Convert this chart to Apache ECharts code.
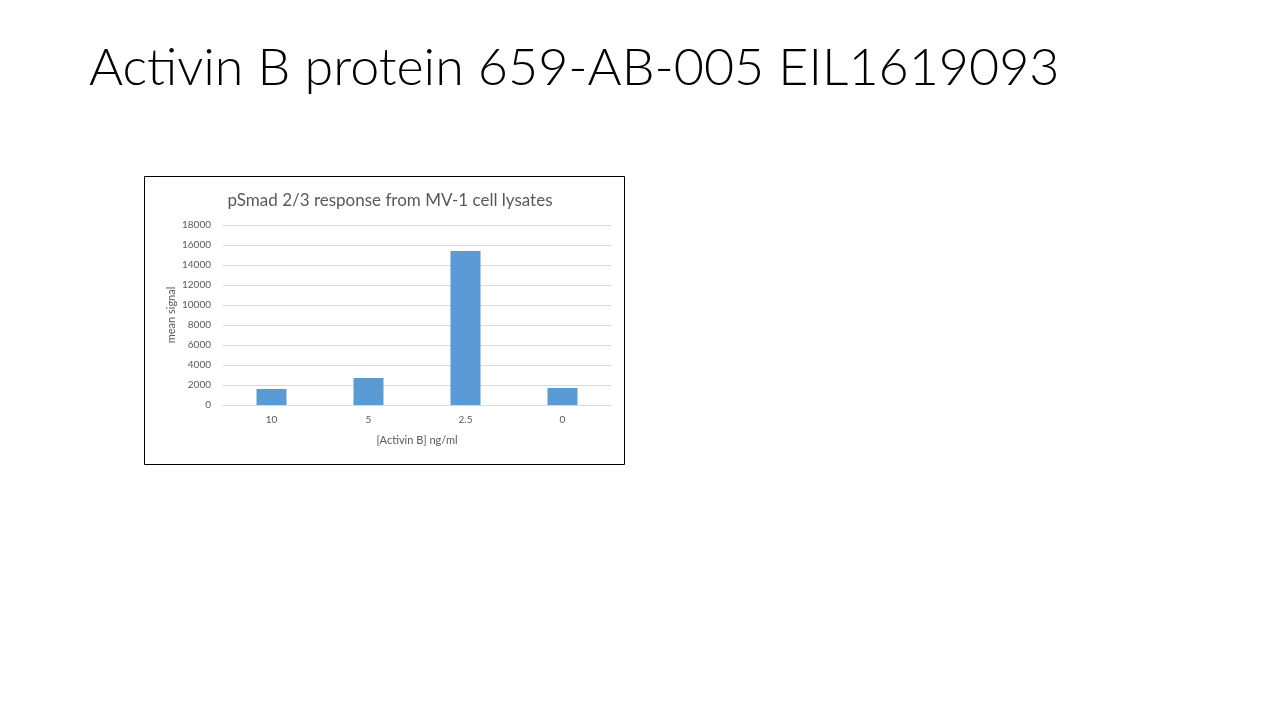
<!DOCTYPE html>
<html>
<head>
<meta charset="utf-8">
<script src="https://cdn.jsdelivr.net/npm/echarts@6/dist/echarts.min.js"></script>
<style>
  html, body { margin: 0; padding: 0; background: #fff; }
  #main { width: 1280px; height: 720px; }
</style>
</head>
<body>
<div id="main"></div>
<script>
  var categories = ['10', '5', '2.5', '0'];
  var meanSignal = [1600, 2700, 15400, 1700];
  var yTicks = { min: 0, max: 18000, interval: 2000 };

  var chart = echarts.init(document.getElementById('main'));
  chart.setOption({
    backgroundColor: '#fff',
    animation: false,
    title: [{
      text: 'Activin B protein 659-AB-005 EIL1619093',
      left: 84, top: 37,
      textStyle: { fontFamily: 'Lato', fontWeight: 300, fontSize: 52, color: '#000' }
    }, {
      text: 'pSmad 2/3 response from MV-1 cell lysates',
      left: 385, top: 187, textAlign: 'center',
      textStyle: { fontFamily: 'Lato', fontWeight: 'normal', fontSize: 17, color: '#595959' }
    }],
    graphic: [{
      type: 'rect',
      shape: { x: 144.5, y: 176.5, width: 480, height: 288 },
      style: { fill: 'none', stroke: '#000', lineWidth: 1 },
      silent: true
    }],
    grid: { left: 223, top: 225, width: 388, height: 180 },
    xAxis: {
      type: 'category',
      data: categories,
      name: '[Activin B] ng/ml',
      nameLocation: 'middle',
      nameGap: 30,
      nameTextStyle: { fontFamily: 'Lato', fontSize: 11, color: '#595959' },
      axisLine: { lineStyle: { color: '#d9d9d9' } },
      axisTick: { show: false },
      axisLabel: { fontFamily: 'Lato', fontSize: 10, color: '#595959', margin: 10 }
    },
    yAxis: {
      type: 'value',
      min: yTicks.min, max: yTicks.max, interval: yTicks.interval,
      name: 'mean signal',
      nameLocation: 'middle',
      nameGap: 46,
      nameRotate: 90,
      nameTextStyle: { fontFamily: 'Lato', fontSize: 11, color: '#595959' },
      axisLine: { show: false },
      axisTick: { show: false },
      splitLine: { lineStyle: { color: '#d9d9d9' } },
      axisLabel: {
        fontFamily: 'Lato', fontSize: 10, color: '#595959', margin: 12,
        formatter: function(v) { return String(v); }
      }
    },
    series: [{
      type: 'bar',
      data: meanSignal,
      barWidth: 30,
      itemStyle: { color: '#5b9bd5' }
    }]
  });
</script>
</body>
</html>
